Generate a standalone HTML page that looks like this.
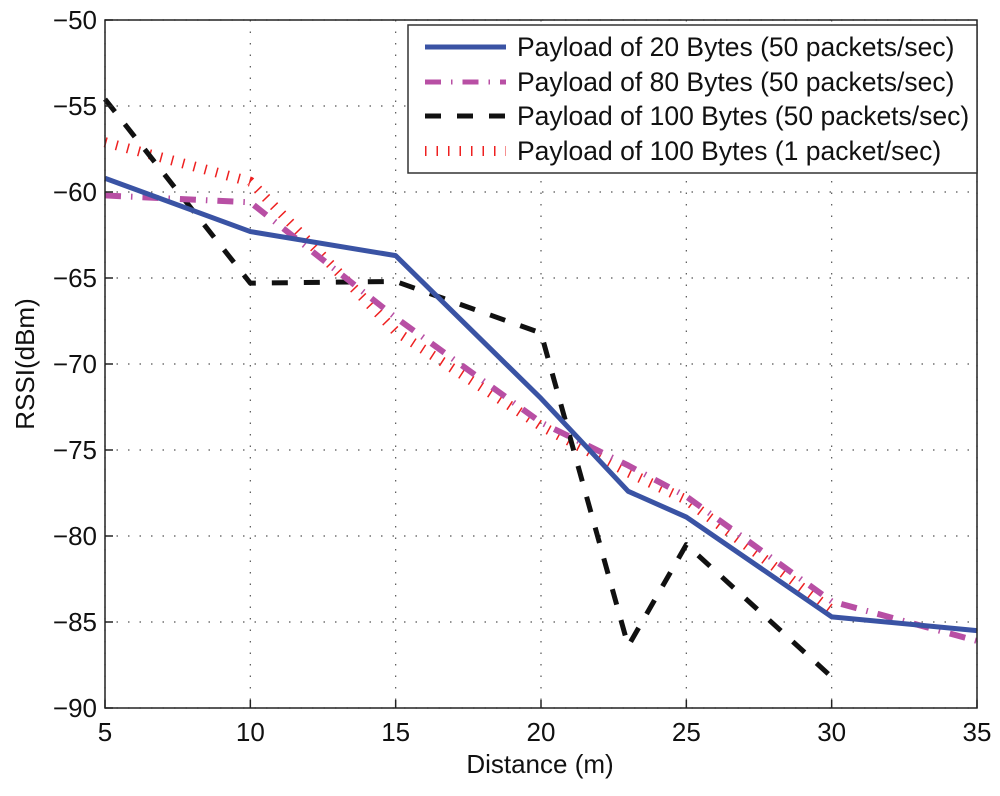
<!DOCTYPE html>
<html><head><meta charset="utf-8"><style>
body{margin:0;background:#fff;}
svg text{font-family:"Liberation Sans",sans-serif;fill:#111;}
</style></head><body>
<svg id="chart" width="1000" height="791" viewBox="0 0 1000 791">
<g id="grid"></g>
<g id="series"></g>
<rect x="105" y="20" width="872" height="688" fill="none" stroke="#222" stroke-width="1.5"/>
<g id="ticks"></g>
<text x="540" y="773" font-size="26" text-anchor="middle">Distance (m)</text>
<text transform="translate(34,364) rotate(-90)" font-size="26" text-anchor="middle">RSSI(dBm)</text>
<g id="legend">
<rect x="408" y="25" width="569" height="148" fill="#fff" stroke="#333" stroke-width="1.5"/>
</g>
</svg>
<script>
const xTicks=[5,10,15,20,25,30,35];
const yTicks=[-50,-55,-60,-65,-70,-75,-80,-85,-90];
const xs20=[5,10,15,20,23,25,30,35];
const ys20=[-59.2,-62.3,-63.7,-72.0,-77.4,-78.9,-84.7,-85.5];
const xs80=[5,10,15,20,23,25,30,35];
const ys80=[-60.2,-60.6,-67.3,-73.4,-75.9,-77.7,-83.8,-86.1];
const xs100=[5,10,15,20,23,25,30];
const ys100=[-54.6,-65.3,-65.2,-68.2,-86.4,-80.5,-88.2];
const xs100s=[5,10,15,20,23,25,30];
const ys100s=[-57.1,-59.4,-68.1,-73.6,-76.3,-77.9,-84.3];
const labels=["Payload of 20 Bytes (50 packets/sec)","Payload of 80 Bytes (50 packets/sec)","Payload of 100 Bytes (50 packets/sec)","Payload of 100 Bytes (1 packet/sec)"];

const NS="http://www.w3.org/2000/svg";
const X=v=>105+(v-5)*(872/30);
const Y=v=>20+(-50-v)*(688/40);
function mk(tag,attrs,parent){const e=document.createElementNS(NS,tag);for(const k in attrs)e.setAttribute(k,attrs[k]);parent.appendChild(e);return e;}
const grid=document.getElementById('grid'),ticks=document.getElementById('ticks');
xTicks.forEach(t=>{
  const l=mk('line',{x1:X(t),x2:X(t),y1:20,y2:708,stroke:'#555','stroke-width':1.2,'stroke-dasharray':'1.5 10'},grid);
  
  
  const tk=mk('line',{x1:X(t),x2:X(t),y1:708,y2:700,stroke:'#222','stroke-width':1.5},ticks);
  
  
  const tx=mk('text',{x:X(t),y:741,'font-size':26,'text-anchor':'middle'},ticks);tx.textContent=t;
  
  
});
yTicks.forEach(t=>{
  const l=mk('line',{x1:105,x2:977,y1:Y(t),y2:Y(t),stroke:'#555','stroke-width':1.2,'stroke-dasharray':'1.5 10'},grid);
  
  
  const tk=mk('line',{x1:105,x2:113,y1:Y(t),y2:Y(t),stroke:'#222','stroke-width':1.5},ticks);
  
  
  const tx=mk('text',{x:97,y:Y(t)+9,'font-size':26,'text-anchor':'end'},ticks);tx.textContent=(t<0?'\u2212'+(-t):t);
  
  
});
const styles=[
 {c:'#3a53a4',w:5,d:'none',xs:xs20,ys:ys20,n:'line-20-bytes'},
 {c:'#b84fa4',w:6,d:'16 10 1.5 10',xs:xs80,ys:ys80,n:'line-80-bytes'},
 {c:'#111',w:5,d:'16 16',xs:xs100,ys:ys100,n:'line-100-bytes'},
 {c:'#ee2020',w:10,d:'1.5 10',xs:xs100s,ys:ys100s,n:'line-100-bytes-1pps'}
];
const ser=document.getElementById('series'),leg=document.getElementById('legend');
const order=[3,2,1,0];
order.forEach(i=>{const s=styles[i];
  const p=mk('polyline',{points:s.xs.map((x,j)=>X(x)+','+Y(s.ys[j])).join(' '),fill:'none',stroke:s.c,'stroke-width':s.w,'stroke-dasharray':s.d,'stroke-linejoin':'round'},ser);
  
  
});
const ly=[47,82,116,151];
styles.forEach((s,i)=>{
  const l=mk('line',{x1:425,x2:506,y1:ly[i],y2:ly[i],stroke:s.c,'stroke-width':i==3?10:5,'stroke-dasharray':s.d},leg);
  
  
  const t=mk('text',{x:517,y:ly[i]+9,'font-size':26.5},leg);t.textContent=labels[i];
  
  
});
</script>
</body></html>
